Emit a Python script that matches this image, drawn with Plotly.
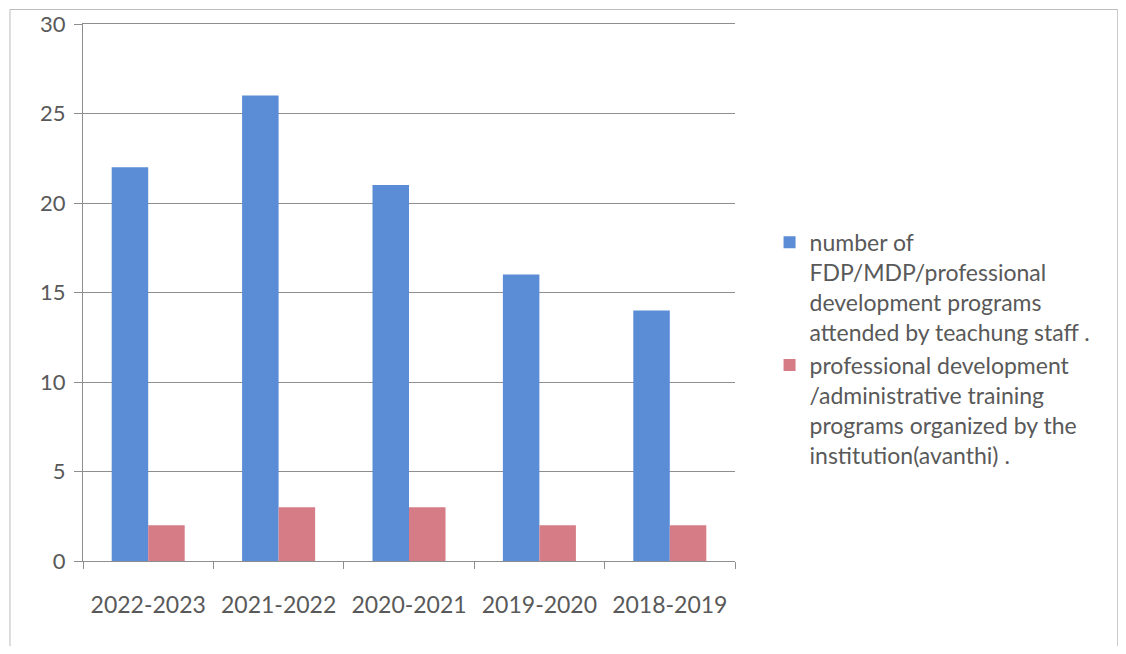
import plotly.graph_objects as go

# Data
years = ["2022-2023", "2021-2022", "2020-2021", "2019-2020", "2018-2019"]
attended = [22, 26, 21, 16, 14]
organized = [2, 3, 3, 2, 2]
y_ticks = [0, 5, 10, 15, 20, 25, 30]

series_names = [
    "number of<br>FDP/MDP/professional<br>development programs<br>attended by teachung staff .",
    "professional development<br>/administrative training<br>programs organized by the<br>institution(avanthi) .",
]

BLUE = "#5B8DD6"
RED = "#D67C87"
TEXT = "#595959"
GRID = "#8E8E8E"
FONT = "Lato, Open Sans, sans-serif"

fig = go.Figure()
fig.add_trace(go.Bar(x=years, y=attended, name=series_names[0], marker_color=BLUE,
                     marker_line_width=0))
fig.add_trace(go.Bar(x=years, y=organized, name=series_names[1], marker_color=RED,
                     marker_line_width=0))

# page body adds an 8px offset, so the figure is sized to fit inside it
fig.update_layout(
    width=1110,
    height=638,
    barmode="group",
    bargap=0.44,
    bargroupgap=0,
    plot_bgcolor="white",
    paper_bgcolor="white",
    margin=dict(l=75, r=383, t=16, b=85),
    font=dict(family=FONT, size=20, color=TEXT),
    xaxis=dict(
        showline=True, linecolor=GRID, linewidth=1, mirror=True,  # mirror gives the top line at 30
        ticks="outside", tickson="boundaries", ticklen=7, tickcolor=GRID,
        tickfont=dict(size=23, color=TEXT),
        ticklabelstandoff=23,
        showgrid=False,
        automargin=False,
    ),
    yaxis=dict(
        range=[0, 30], tickvals=y_ticks,
        showline=True, linecolor=GRID, linewidth=1,
        ticks="outside", ticklen=8, tickcolor=GRID,
        showgrid=True, gridcolor=GRID, gridwidth=1,
        zeroline=False,
        tickfont=dict(size=22, color=TEXT),
        ticklabelstandoff=4,
        ticklabeloverflow="allow",
        automargin=False,
    ),
    legend=dict(
        x=1.053, y=0.395, xanchor="left", yanchor="middle",
        valign="top", tracegroupgap=15,
        font=dict(size=23, color=TEXT),
        itemwidth=30,
    ),
    shapes=[
        dict(type="rect", xref="paper", yref="paper",
             x0=-0.112, x1=1.587, y0=-0.2, y1=1.027,
             line=dict(color="#BBBBBB", width=1), layer="below"),
    ],
)

fig.write_html("out.html")
